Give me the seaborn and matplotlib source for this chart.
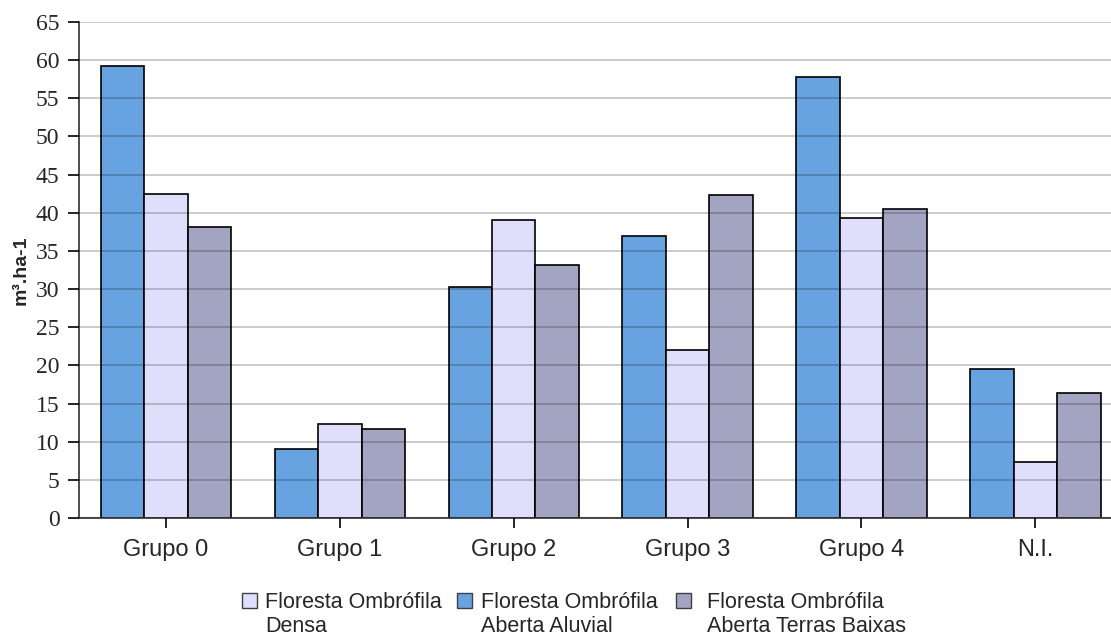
import matplotlib
matplotlib.use("Agg")
import matplotlib.pyplot as plt
from matplotlib.patches import Rectangle
import seaborn as sns
import pandas as pd

# Volume per hectare by group and forest type
grupos = ["Grupo 0", "Grupo 1", "Grupo 2", "Grupo 3", "Grupo 4", "N.I."]
aluvial = [59.2, 9.0, 30.3, 37.0, 57.8, 19.5]
densa = [42.4, 12.3, 39.1, 22.0, 39.3, 7.3]
terras_baixas = [38.2, 11.7, 33.2, 42.3, 40.5, 16.4]

serie_aluvial = "Floresta Ombrófila\nAberta Aluvial"
serie_densa = "Floresta Ombrófila\nDensa"
serie_baixas = "Floresta Ombrófila\nAberta Terras Baixas"

yticks = list(range(0, 70, 5))

cores = {
    serie_aluvial: "#66A3E0",
    serie_densa: "#DFDFFB",
    serie_baixas: "#A3A3C2",
}

df = pd.DataFrame({
    "grupo": grupos * 3,
    "valor": aluvial + densa + terras_baixas,
    "serie": [serie_aluvial] * 6 + [serie_densa] * 6 + [serie_baixas] * 6,
})

sns.set_style("white")
plt.rcParams["font.family"] = ["Liberation Sans", "DejaVu Sans"]

fig = plt.figure(figsize=(11.11, 6.39), dpi=100)
W, H = 1111, 639
ax = fig.add_axes([79 / W, 121 / H, (W - 79) / W, 496 / H])

sns.barplot(
    data=df, x="grupo", y="valor", hue="serie",
    hue_order=[serie_aluvial, serie_densa, serie_baixas],
    order=grupos, palette=cores, width=0.75, gap=0,
    edgecolor="black", linewidth=1.2, saturation=1,
    errorbar=None, legend=False, ax=ax,
)

ax.set_xlim(-0.5, 5.435)
ax.set_ylim(0, 65)
ax.set_yticks(yticks)
ax.set_yticklabels([str(v) for v in yticks], family="Liberation Serif", fontsize=17)
ax.tick_params(axis="y", direction="out", length=8, width=1.2, color="black", pad=6, left=True)
ax.tick_params(axis="x", direction="out", length=7, width=1.2, color="black", pad=8,
               bottom=True, labelsize=17)

ax.yaxis.grid(True, color="black", alpha=0.2, linewidth=1.4)
ax.xaxis.grid(False)
ax.set_axisbelow(False)

for s in ["top", "right"]:
    ax.spines[s].set_visible(False)
for s in ["left", "bottom"]:
    ax.spines[s].set_color("#404040")
    ax.spines[s].set_linewidth(1.3)

ax.set_xlabel("")
ax.set_ylabel("m³.ha-1", fontsize=14, fontweight="bold")
ax.yaxis.set_label_coords(-0.048, 0.5)

# Legend below the plot, three entries side by side
entradas = [
    (serie_densa, 242, 265),
    (serie_aluvial, 457, 481),
    (serie_baixas, 676, 707),
]
for serie, hx, tx in entradas:
    fig.patches.append(Rectangle(
        (hx / W, (H - 608) / H), 15 / W, 15 / H,
        transform=fig.transFigure, facecolor=cores[serie],
        edgecolor="#404040", linewidth=1.0,
    ))
    linha1, linha2 = serie.split("\n")
    fig.text(tx / W, (H - 608) / H, linha1, fontsize=15.5, va="baseline", ha="left")
    fig.text(tx / W, (H - 632) / H, linha2, fontsize=15.5, va="baseline", ha="left")

fig.savefig("out.png", dpi=100)
